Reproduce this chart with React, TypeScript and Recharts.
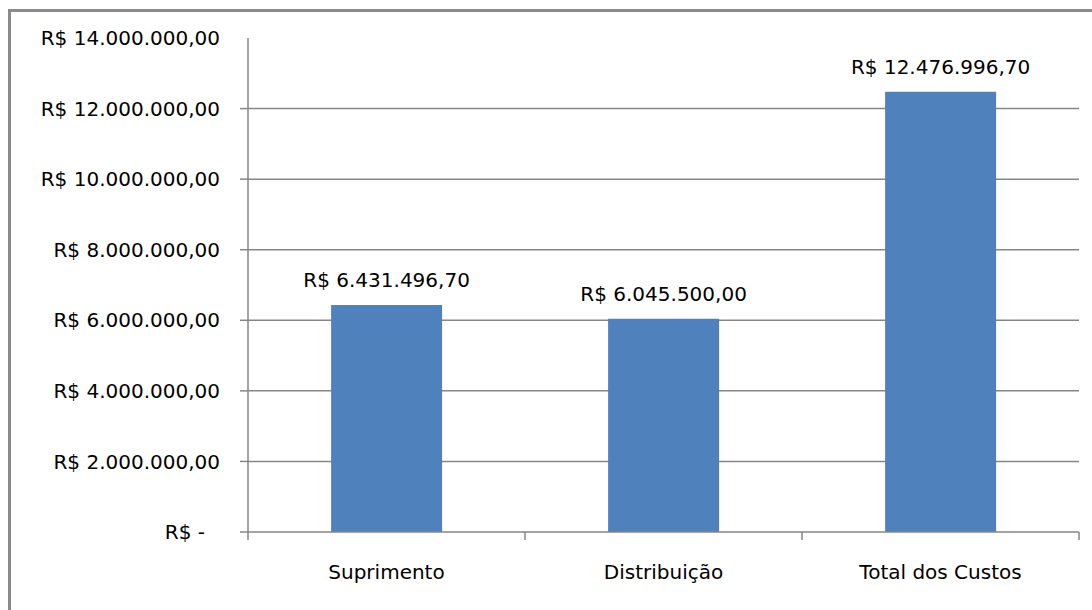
import { BarChart, Bar, XAxis, YAxis, CartesianGrid, LabelList } from 'recharts';

const categories = ['Suprimento', 'Distribuição', 'Total dos Custos'];
const custos = [6431496.7, 6045500.0, 12476996.7];
const yTicks = [0, 2000000, 4000000, 6000000, 8000000, 10000000, 12000000, 14000000];
const gridValues = [2000000, 4000000, 6000000, 8000000, 10000000, 12000000];

const data = categories.map((name, i) => ({ name, valor: custos[i] }));

const FONT = '"DejaVu Sans", sans-serif';
const AXIS_GRAY = '#868686';
const W = 1092;
const H = 610;
const Y_AXIS_W = 248;
const RIGHT = 13;
const BAND = (W - Y_AXIS_W - RIGHT) / categories.length;

function brl(v: number) {
  if (v === 0) return 'R$ -';
  const [int, dec] = v.toFixed(2).split('.');
  const withDots = int.replace(/\B(?=(\d{3})+(?!\d))/g, '.');
  return `R$ ${withDots},${dec}`;
}

function YTick(props: any) {
  const { x, y, payload } = props;
  const v = payload.value as number;
  return (
    <g>
      {v < 14000000 && (
        <line x1={240} x2={248} y1={y} y2={y} stroke={AXIS_GRAY} strokeWidth={1.5} />
      )}
      <text
        x={v === 0 ? x - 15 : x}
        y={y}
        dy="0.355em"
        textAnchor="end"
        fill="#000"
        fontSize={20}
        fontFamily={FONT}
      >
        {brl(v)}
      </text>
    </g>
  );
}

// category labels, with tick marks on the band boundaries (Excel style)
function XTick(props: any) {
  const { x, y, payload, index } = props;
  const top = y - 25;
  const last = index === categories.length - 1;
  return (
    <g>
      <line x1={x - BAND / 2} x2={x - BAND / 2} y1={top - 8} y2={top} stroke={AXIS_GRAY} strokeWidth={1.5} />
      {last && (
        <line x1={x + BAND / 2} x2={x + BAND / 2} y1={top - 8} y2={top} stroke={AXIS_GRAY} strokeWidth={1.5} />
      )}
      <text x={x} y={y} dy="0.71em" textAnchor="middle" fill="#000" fontSize={20} fontFamily={FONT}>
        {payload.value}
      </text>
    </g>
  );
}

function BarLabel(props: any) {
  const { x, y, width, value } = props;
  return (
    <text
      x={x + width / 2}
      y={y - 18}
      textAnchor="middle"
      fill="#000"
      fontSize={20}
      fontFamily={FONT}
    >
      {brl(Number(value))}
    </text>
  );
}

export default function App() {
  return (
    <div style={{ position: 'relative', width: W, height: H, background: '#fff', overflow: 'hidden' }}>
      <style>{'body{margin:0}'}</style>
      <div
        style={{
          position: 'absolute',
          left: 8,
          top: 9,
          width: 2000,
          height: 2000,
          border: '3px solid #8a8a8a',
        }}
      />
      <div style={{ position: 'absolute', left: 0, top: 0 }}>
        <BarChart
          width={W}
          height={H}
          data={data}
          margin={{ top: 38, right: RIGHT, left: 0, bottom: 30 }}
          barCategoryGap="30%"
        >
          <CartesianGrid
            vertical={false}
            horizontalValues={gridValues}
            stroke={AXIS_GRAY}
            strokeWidth={1.5}
          />
          <XAxis
            dataKey="name"
            height={48}
            stroke={AXIS_GRAY}
            strokeWidth={1.5}
            tickLine={false}
            tickSize={8}
            tickMargin={25}
            tick={<XTick />}
            interval={0}
          />
          <YAxis
            width={Y_AXIS_W}
            domain={[0, 14000000]}
            ticks={yTicks}
            interval={0}
            stroke={AXIS_GRAY}
            strokeWidth={1.5}
            tickLine={false}
            tickSize={8}
            tickMargin={20}
            tick={<YTick />}
          />
          <Bar dataKey="valor" fill="#4f81bd" isAnimationActive={false}>
            <LabelList dataKey="valor" content={<BarLabel />} />
          </Bar>
        </BarChart>
      </div>
    </div>
  );
}
